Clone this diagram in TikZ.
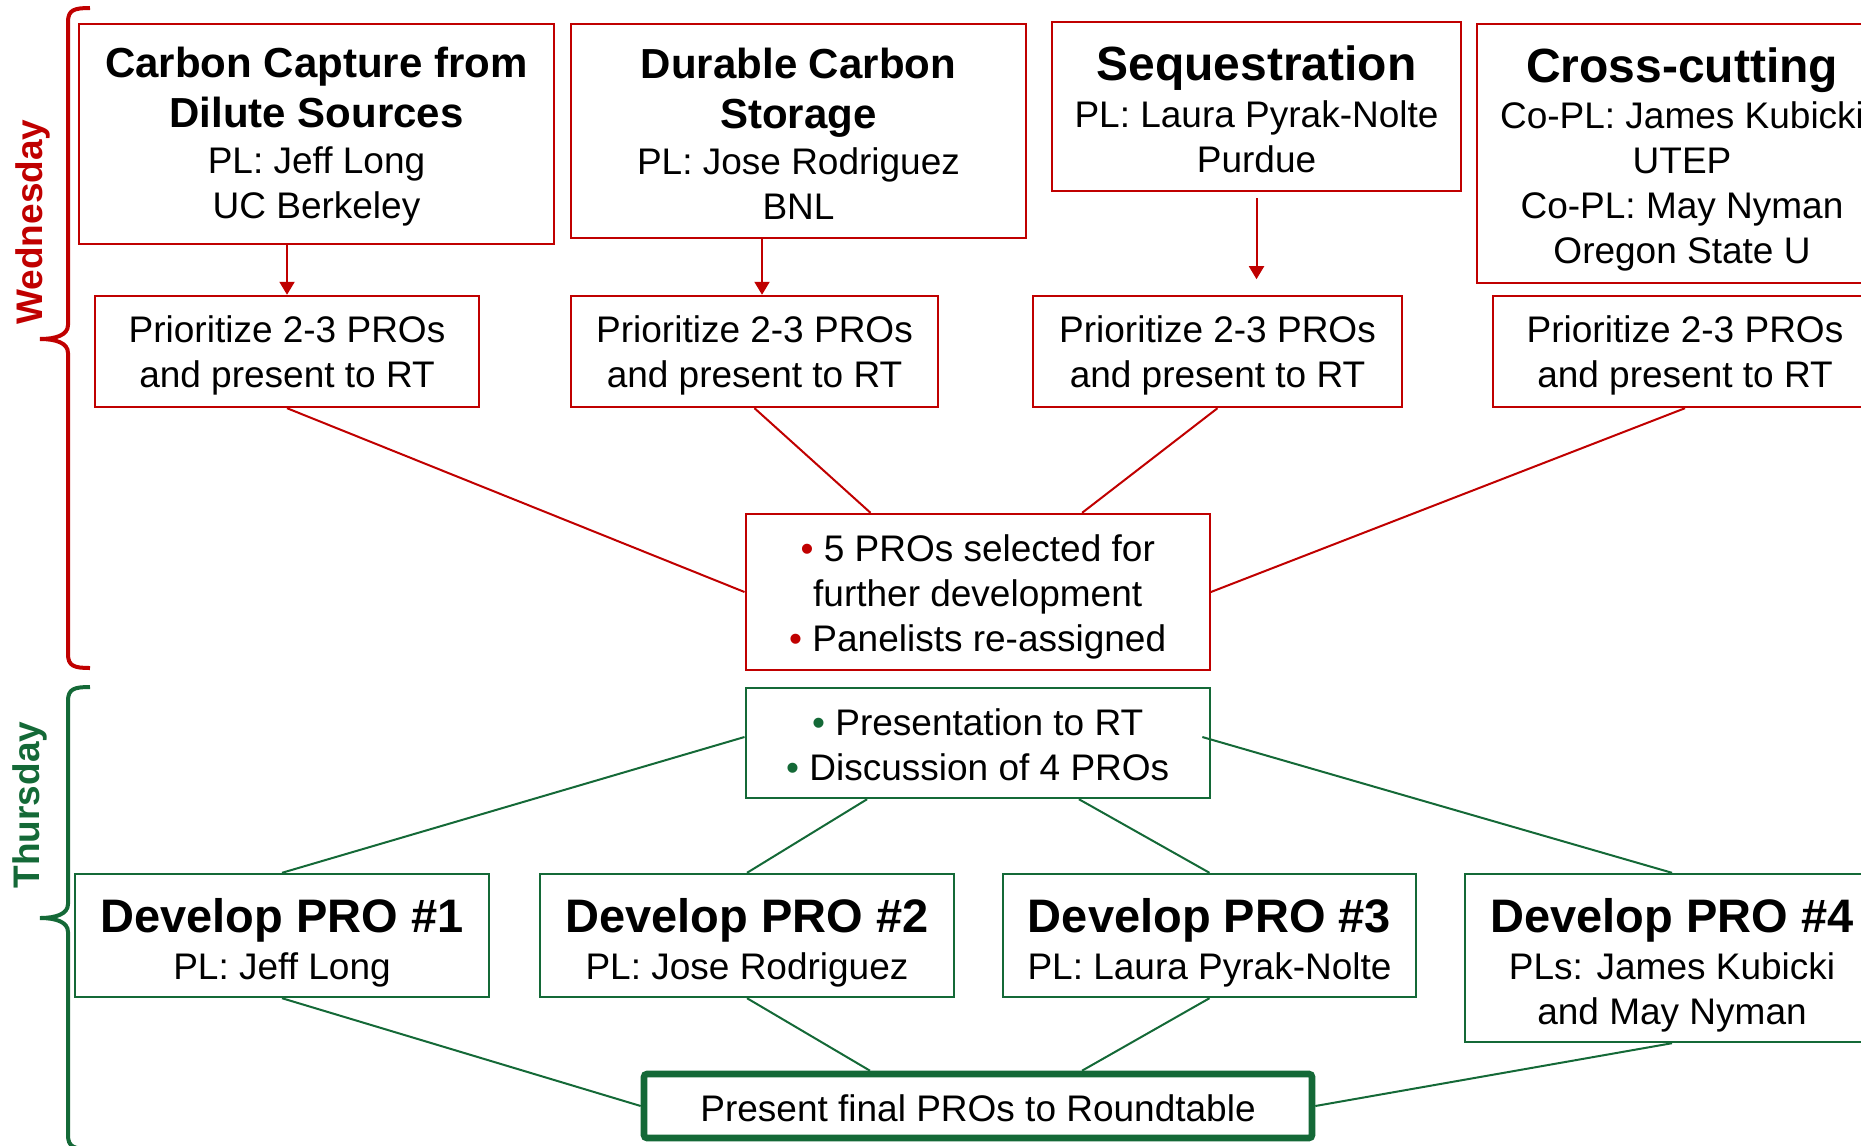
\documentclass[tikz,border=0pt]{standalone}
\usepackage{fontspec}
\setmainfont{Liberation Sans}
\usetikzlibrary{arrows.meta,positioning,calc}
\definecolor{wRed}{RGB}{192,0,0}
\definecolor{tGreen}{RGB}{20,105,55}
\newcommand{\wtitle}[1]{{\bfseries\fontsize{21}{25}\selectfont #1}}
\newcommand{\stitle}[1]{{\bfseries\fontsize{24}{28}\selectfont #1}}
\newcommand{\dtitle}[1]{{\bfseries\fontsize{23.5}{27}\selectfont #1}}
\newcommand{\tstrut}[1]{\rule{0pt}{#1}}
\newcommand{\rdot}{\textcolor{wRed}{•}}
\newcommand{\gdot}{\textcolor{tGreen}{•}}
\tikzset{
  wbox/.style={draw=wRed, line width=1.2pt, align=center, inner sep=0pt},
  tbox/.style={draw=tGreen, line width=1.2pt, align=center, inner sep=0pt},
  wline/.style={wRed, line width=1pt},
  tline/.style={tGreen, line width=1pt},
  warrow/.style={wline, -{Triangle[length=6.5pt,width=7.5pt]}},
  daybrace/.style={line width=2pt},
  daylabel/.style={rotate=90, inner sep=0pt, font=\bfseries\fontsize{18.5}{22}\selectfont}
}

\begin{document}
\begin{tikzpicture}[x=0.5pt, y=-0.5pt, font=\fontsize{18.5}{22.5}\selectfont]
    \clip (0,0) rectangle (1861,1145);

    \node[wbox, minimum width=237.5pt, minimum height=110pt] (cap) at (316.5,134) {%
    \wtitle{\tstrut{18.3pt}Carbon Capture from}\\[2.5pt]\wtitle{Dilute Sources}\\[0.5pt]PL: Jeff Long\\UC Berkeley};
    \node[wbox, minimum width=227.5pt, minimum height=107pt] (dur) at (798.5,131) {%
    \wtitle{\tstrut{17.8pt}Durable Carbon}\\[2.5pt]\wtitle{Storage}\\[0.5pt]PL: Jose Rodriguez\\BNL};
    \node[wbox, minimum width=204.5pt, minimum height=84.5pt] (seq) at (1256.5,106.5) {%
    \stitle{\tstrut{20pt}Sequestration}\\[1pt]PL: Laura Pyrak-Nolte\\Purdue};
    \node[wbox, minimum width=205pt, minimum height=129.5pt] (crs) at (1682,153.5) {%
    \stitle{\tstrut{23pt}Cross-cutting}\\[0.5pt]Co-PL: James Kubicki\\UTEP\\Co-PL: May Nyman\\Oregon State U};

    \node[wbox, minimum width=192pt, minimum height=55.5pt] (p1) at (287,351.5) {\tstrut{17pt}Prioritize 2-3 PROs\\and present to RT};
    \node[wbox, minimum width=183.5pt, minimum height=55.5pt] (p2) at (754.5,351.5) {\tstrut{17pt}Prioritize 2-3 PROs\\and present to RT};
    \node[wbox, minimum width=184.5pt, minimum height=55.5pt] (p3) at (1217.5,351.5) {\tstrut{17pt}Prioritize 2-3 PROs\\and present to RT};
    \node[wbox, minimum width=192pt, minimum height=55.5pt] (p4) at (1685,351.5) {\tstrut{17pt}Prioritize 2-3 PROs\\and present to RT};

    \node[wbox, minimum width=232pt, minimum height=78pt] (sel) at (977.7,592) {%
    \tstrut{18.5pt}\rdot\ 5 PROs selected for\\further development\\\rdot\ Panelists re-assigned};
    \node[tbox, minimum width=232pt, minimum height=55pt] (dis) at (977.7,743) {%
    \tstrut{15.3pt}\gdot\ Presentation to RT\\\gdot\ Discussion of 4 PROs};

    \node[tbox, minimum width=206.75pt, minimum height=61.5pt] (d1) at (282,935.5) {\dtitle{\tstrut{23.9pt}Develop PRO \#1}\\[1pt]PL: Jeff Long};
    \node[tbox, minimum width=207pt, minimum height=61.5pt] (d2) at (747,935.5) {\dtitle{\tstrut{23.9pt}Develop PRO \#2}\\[1pt]PL: Jose Rodriguez};
    \node[tbox, minimum width=206.5pt, minimum height=61.5pt] (d3) at (1209.5,935.5) {\dtitle{\tstrut{23.9pt}Develop PRO \#3}\\[1pt]PL: Laura Pyrak-Nolte};
    \node[tbox, minimum width=207pt, minimum height=84pt] (d4) at (1672,958) {\dtitle{\tstrut{23.9pt}Develop PRO \#4}\\[1pt]PLs: James Kubicki\\and May Nyman};

    \node[draw=tGreen, line width=3.3pt, rounded corners=1.5pt, inner sep=0pt, text height=16pt,
          minimum width=334pt, minimum height=32pt] (fin) at (978,1106) {Present final PROs to Roundtable};

    \node[daylabel, text=wRed] (wed) at (33,222) {Wednesday};
    \node[daylabel, text=tGreen] (thu) at (30,805) {Thursday};

    \coordinate (a2) at ([xshift=3.75pt]p2.north);
    \coordinate (s3) at ([yshift=-43.5pt]seq.south);
    \draw[warrow] (cap.south -| p1.north) -- (p1.north);
    \draw[warrow] (a2 |- dur.south) -- (a2);
    \draw[warrow] ([yshift=-3pt]seq.south) -- (s3);

    \draw[wline] (p1.south) -- (sel.west);
    \draw[wline] (p2.south) -- ([xshift=-53.6pt]sel.north);
    \draw[wline] (p3.south) -- ([xshift=52.2pt]sel.north);
    \draw[wline] (p4.south) -- (sel.east);

    \draw[tline] ([yshift=3pt]dis.west) -- (d1.north);
    \draw[tline] ([xshift=-55.3pt]dis.south) -- (d2.north);
    \draw[tline] ([xshift=50.6pt]dis.south) -- (d3.north);
    \draw[tline] ([xshift=-4.3pt,yshift=3pt]dis.east) -- (d4.north);
    \draw[tline] (d1.south) -- (fin.west);
    \draw[tline] (d2.south) -- ([xshift=-54pt]fin.north);
    \draw[tline] (d3.south) -- ([xshift=52pt]fin.north);
    \draw[tline] (d4.south) -- (fin.east);

    \draw[daybrace, wRed] (90,8) .. controls (74,8) and (68,10) .. (68,22) -- (68,325)
        .. controls (68,335) and (56,339) .. (40,339) .. controls (56,339) and (68,343) .. (68,353)
        -- (68,654) .. controls (68,666) and (74,668) .. (90,668);
    \draw[daybrace, tGreen] (90,687) .. controls (74,687) and (68,689) .. (68,701) -- (68,904)
        .. controls (68,914) and (56,918) .. (40,918) .. controls (56,918) and (68,922) .. (68,932)
        -- (68,1135) .. controls (68,1147) and (74,1149) .. (90,1149);
\end{tikzpicture}
\end{document}
